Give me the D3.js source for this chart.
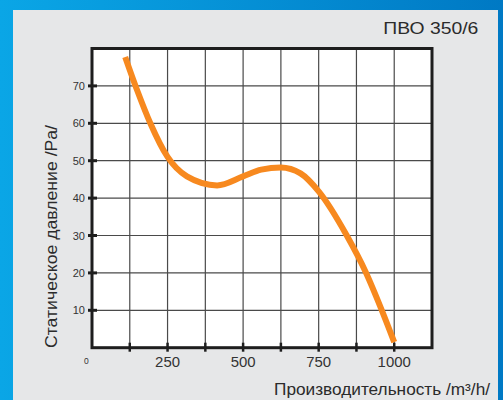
<!DOCTYPE html>
<html><head><meta charset="utf-8">
<script src="https://cdn.jsdelivr.net/npm/d3@7"></script>
<style>html,body{margin:0;padding:0;overflow:hidden;}svg{display:block;}text{font-family:"Liberation Sans",Arial,sans-serif;}</style>
</head><body>
<script>
const title = "ПВО 350/6";
const xTitle = "Производительность /m³/h/";
const yTitle = "Статическое давление /Pa/";
const flow = [110, 150, 193, 250, 314, 414, 500, 560, 625, 690, 750, 843, 907, 959, 1000];
const pressure = [77.7, 68.7, 60, 51, 45.8, 43.4, 45.8, 47.6, 48.2, 46.6, 41.8, 30, 20, 10, 1.5];
const xTickLabels = [250, 500, 750, 1000];
const yTickLabels = [10, 20, 30, 40, 50, 60, 70];

const W = 503, H = 400;
const svg = d3.select("body").append("svg").attr("width", W).attr("height", H);
const defs = svg.append("defs");
const g = defs.append("linearGradient").attr("id","bg").attr("x1","0").attr("y1","0").attr("x2","1").attr("y2","0");
g.append("stop").attr("offset","0").attr("stop-color","#0aa6e6");
g.append("stop").attr("offset","1").attr("stop-color","#0079c4");
svg.append("rect").attr("width",W).attr("height",H).attr("fill","url(#bg)");
svg.append("rect").attr("x",13).attr("y",10).attr("width",485).attr("height",H-10).attr("fill","#e6e7e8");

const x = d3.scaleLinear().domain([0,1125]).range([92,432]);
const y = d3.scaleLinear().domain([0,80]).range([347.7,48.5]);

svg.append("rect").attr("x",x(0)).attr("y",y(80)).attr("width",x(1125)-x(0)).attr("height",y(0)-y(80)).attr("fill","#fff");

// grid
const grid = svg.append("g").attr("stroke","#4a4a4a").attr("stroke-width",1.2);
d3.range(125,1125,125).forEach(v=>grid.append("line").attr("x1",x(v)).attr("x2",x(v)).attr("y1",y(0)).attr("y2",y(80)));
d3.range(10,80,10).forEach(v=>grid.append("line").attr("y1",y(v)).attr("y2",y(v)).attr("x1",x(0)).attr("x2",x(1125)));

// frame
svg.append("rect").attr("x",x(0)).attr("y",y(80)).attr("width",x(1125)-x(0)).attr("height",y(0)-y(80))
  .attr("fill","none").attr("stroke","#1e1e1e").attr("stroke-width",3);

// ticks
const tk = svg.append("g").attr("stroke","#1e1e1e");
yTickLabels.forEach(v=>tk.append("line").attr("x1",x(0)-4).attr("x2",x(0)+5).attr("y1",y(v)).attr("y2",y(v)).attr("stroke-width",3));
d3.range(125,1125,125).forEach(v=>tk.append("line").attr("x1",x(v)).attr("x2",x(v)).attr("y1",y(0)-5).attr("y2",y(0)+4).attr("stroke-width",2.5));

// labels
svg.append("g").selectAll("text").data(yTickLabels).join("text")
  .attr("x",85).attr("y",d=>y(d)+4).attr("text-anchor","end").attr("font-size",11).attr("fill","#333").text(d=>d);
svg.append("g").selectAll("text").data(xTickLabels).join("text")
  .attr("x",d=>x(d)).attr("y",366.7).attr("text-anchor","middle").attr("font-size",14).attr("fill","#333")
  .attr("textLength",d=>String(d).length*8.3).attr("lengthAdjust","spacingAndGlyphs").text(d=>d);
svg.append("text").attr("x",86.3).attr("y",364).attr("text-anchor","middle").attr("font-size",8.5).attr("fill","#333").text("0");

svg.append("text").attr("x",383.3).attr("y",34).attr("font-size",16.5).attr("fill","#2b2b2b")
  .attr("textLength",95).attr("lengthAdjust","spacingAndGlyphs").text(title);
svg.append("text").attr("x",274).attr("y",395).attr("font-size",16).attr("fill","#2b2b2b")
  .attr("textLength",216).attr("lengthAdjust","spacingAndGlyphs").text(xTitle);
svg.append("text").attr("transform","translate(57,348) rotate(-90)").attr("font-size",16).attr("fill","#2b2b2b")
  .attr("textLength",223).attr("lengthAdjust","spacingAndGlyphs").text(yTitle);

// curve
const pts = flow.map((f,i)=>[f,pressure[i]]);
svg.append("path").datum(pts)
  .attr("d", d3.line().x(d=>x(d[0])).y(d=>y(d[1])).curve(d3.curveMonotoneX))
  .attr("fill","none").attr("stroke","#f7891f").attr("stroke-width",6);
</script>
</body></html>
